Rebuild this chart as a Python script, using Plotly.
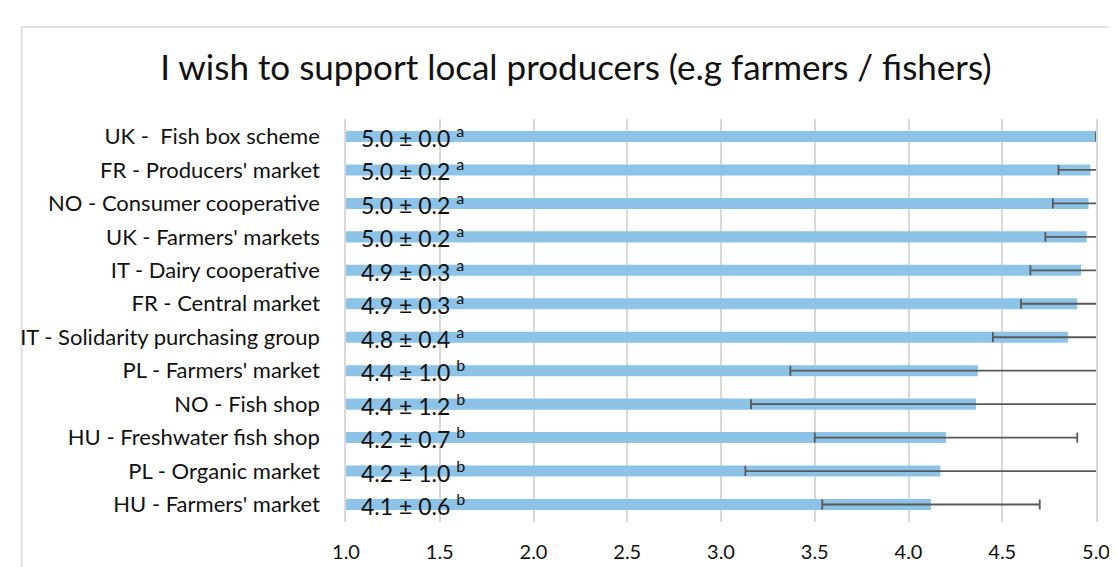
import plotly.graph_objects as go

categories = [
    "UK -  Fish box scheme",
    "FR - Producers' market",
    "NO - Consumer cooperative",
    "UK - Farmers' markets",
    "IT - Dairy cooperative",
    "FR - Central market",
    "IT - Solidarity purchasing group",
    "PL - Farmers' market",
    "NO - Fish shop",
    "HU - Freshwater fish shop",
    "PL - Organic market",
    "HU - Farmers' market",
]
means = [5.00, 4.97, 4.96, 4.95, 4.92, 4.90, 4.85, 4.37, 4.36, 4.20, 4.17, 4.12]
sds = [0.00, 0.17, 0.19, 0.22, 0.27, 0.30, 0.40, 1.00, 1.20, 0.70, 1.04, 0.58]
value_labels = ["5.0 ± 0.0", "5.0 ± 0.2", "5.0 ± 0.2", "5.0 ± 0.2", "4.9 ± 0.3", "4.9 ± 0.3",
                "4.8 ± 0.4", "4.4 ± 1.0", "4.4 ± 1.2", "4.2 ± 0.7", "4.2 ± 1.0", "4.1 ± 0.6"]
letters = ["a", "a", "a", "a", "a", "a", "a", "b", "b", "b", "b", "b"]
x_ticks = [1.0, 1.5, 2.0, 2.5, 3.0, 3.5, 4.0, 4.5, 5.0]

FONT = "Lato"
W, H = 1117, 567
L, R, T, B = 335, 29, 111, 49

fig = go.Figure()
fig.add_trace(go.Bar(
    x=means, y=categories, orientation="h",
    marker=dict(color="#8DC3E7", line=dict(width=0)),
    error_x=dict(type="data", array=sds, visible=True, color="#595959", thickness=1.8, width=5),
    hoverinfo="skip",
))

for c, v, l in zip(categories, value_labels, letters):
    fig.add_annotation(
        x=x_ticks[0], y=c, xref="x", yref="y", xanchor="left", yanchor="middle",
        xshift=13, showarrow=False,
        text=f"{v} <sup>{l}</sup>",
        font=dict(family=FONT, size=23, color="#111111"),
    )

pw = W - L - R
ph = H - T - B
fig.add_shape(type="rect", xref="paper", yref="paper",
              x0=(9.5 - L) / pw, x1=(W + 5 - L) / pw,
              y0=(H - B - (H + 5)) / ph, y1=(H - B - 18) / ph,
              line=dict(color="#D9D9D9", width=1.5), fillcolor="rgba(0,0,0,0)", layer="below")

fig.update_layout(
    width=W, height=H,
    margin=dict(l=L, r=R, t=T, b=B),
    paper_bgcolor="white", plot_bgcolor="white",
    showlegend=False,
    bargap=0.67,
    title=dict(text="I wish to support local producers (e.g farmers / fishers)",
               x=568 / W, xanchor="center", xref="container",
               y=1 - 60 / H, yanchor="middle", yref="container",
               font=dict(family=FONT, size=35, color="#111111")),
    font=dict(family=FONT, color="#111111"),
)
fig.update_xaxes(
    range=[1, 5], tickvals=x_ticks, ticktext=[f"{t:.1f}" for t in x_ticks],
    showgrid=True, gridcolor="#D9D9D9", gridwidth=1.5, zeroline=False,
    ticks="outside", ticklen=12, tickcolor="rgba(0,0,0,0)",
    tickfont=dict(family=FONT, size=20, color="#111111"),
    showline=False,
)
fig.update_yaxes(
    autorange="reversed", showgrid=False, zeroline=False,
    showline=True, linecolor="#D9D9D9", linewidth=1.5, mirror=True,
    ticks="outside", ticklen=20, tickcolor="rgba(0,0,0,0)",
    tickfont=dict(family=FONT, size=22, color="#111111"),
)

fig.write_html("out.html")
